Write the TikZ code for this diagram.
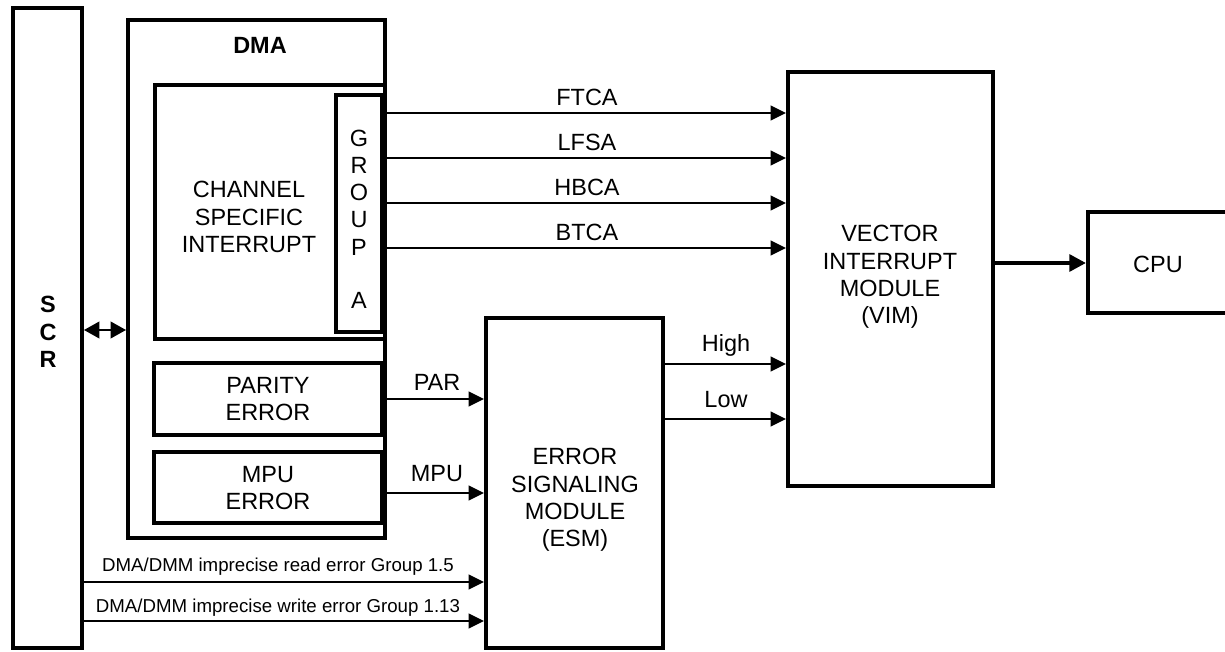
\documentclass[tikz,border=0pt]{standalone}
\usepackage{fontspec}
\setmainfont{Liberation Sans}
\usetikzlibrary{fit,arrows.meta}
\newcommand\dgbig{\fontsize{17.6}{20.4}\selectfont}
\newcommand\dgsmall{\fontsize{14}{16}\selectfont}
\begin{document}
\begin{tikzpicture}[x=0.75pt,y=-0.75pt,
  box/.style={draw, line width=3pt, inner sep=0pt},
  txt/.style={font=\dgbig, align=center, inner sep=0pt},
  smalltxt/.style={font=\dgsmall, inner sep=0pt},
  arr/.style={line width=1.3pt, -{Triangle[length=11.5pt,width=11pt]}},
  dblarr/.style={line width=1.3pt, {Triangle[length=11.5pt,width=12.5pt]}-{Triangle[length=11.5pt,width=12.5pt]}},
  thickarr/.style={line width=3pt, -{Triangle[length=12.5pt,width=12.5pt]}}]
\useasboundingbox (0,0) rectangle (1225,652);
% boxes
\node[box, fit={(13,8) (82,648)}] (scr) {};
\node[txt, font=\dgbig\bfseries] (scrtext) at (48,332) {S\\C\\R};
\node[box, fit={(128,20) (385,538)}] (dma) {};
\node[txt, font=\dgbig\bfseries] (dmatext) at (260,45) {DMA};
\node[box, fit={(155,85) (385,339)}] (chan) {};
\node[txt] (chantext) at (249,217) {CHANNEL\\SPECIFIC\\INTERRUPT};
\node[box, line width=2.4pt, fit={(336,95) (382,332)}] (grp) {};
\node[txt] (grptext) at (359,192.5) {G\\R\\O\\U\\P};
\node[txt] (grpa) at (359,300) {A};
\node[box, fit={(154,363) (382,435)}] (par) {};
\node[txt] (partext) at (268,399) {PARITY\\ERROR};
\node[box, fit={(154,452) (382,523)}] (mpu) {};
\node[txt] (mputext) at (268,488) {MPU\\ERROR};
\node[box, fit={(486,318) (663,648)}] (esm) {};
\node[txt] (esmtext) at (575,500) {ERROR\\SIGNALING\\MODULE\\(ESM)};
\node[box, fit={(788,72) (993,486)}] (vim) {};
\node[txt] (vimtext) at (890,277) {VECTOR\\INTERRUPT\\MODULE\\(VIM)};
\node[box, fit={(1088,212) (1240,313)}] (cpu) {};
\node[txt] (cputext) at (1158,264) {CPU};
% connectors
\draw[dblarr] (scr.east |- 0,330) -- (dma.west |- 0,330);
\draw[arr] (chan.east |- 0,113) -- (vim.west |- 0,113);
\draw[arr] (chan.east |- 0,158) -- (vim.west |- 0,158);
\draw[arr] (chan.east |- 0,203) -- (vim.west |- 0,203);
\draw[arr] (chan.east |- 0,248) -- (vim.west |- 0,248);
\node[txt] (lftca) at (587,97) {FTCA};
\node[txt] (llfsa) at (587,142) {LFSA};
\node[txt] (lhbca) at (587,187) {HBCA};
\node[txt] (lbtca) at (587,232) {BTCA};
\draw[arr] (esm.east |- 0,364) -- (vim.west |- 0,364);
\draw[arr] (esm.east |- 0,419) -- (vim.west |- 0,419);
\node[txt] (lhigh) at (726,345) {High};
\node[txt] (llow) at (726,400) {Low};
\draw[arr] (par.east |- 0,399) -- (esm.west |- 0,399);
\draw[arr] (mpu.east |- 0,493) -- (esm.west |- 0,493);
\node[txt] (lpar) at (437,382) {PAR};
\node[txt] (lmpu) at (437,474) {MPU};
\draw[arr] (scr.east |- 0,582) -- (esm.west |- 0,582);
\draw[arr] (scr.east |- 0,621) -- (esm.west |- 0,621);
\node[smalltxt] (lread) at (278,567) {DMA/DMM imprecise read error Group 1.5};
\node[smalltxt] (lwrite) at (278,608) {DMA/DMM imprecise write error Group 1.13};
\draw[thickarr] (vim.east |- 0,263) -- (cpu.west |- 0,263);
\end{tikzpicture}
\end{document}
